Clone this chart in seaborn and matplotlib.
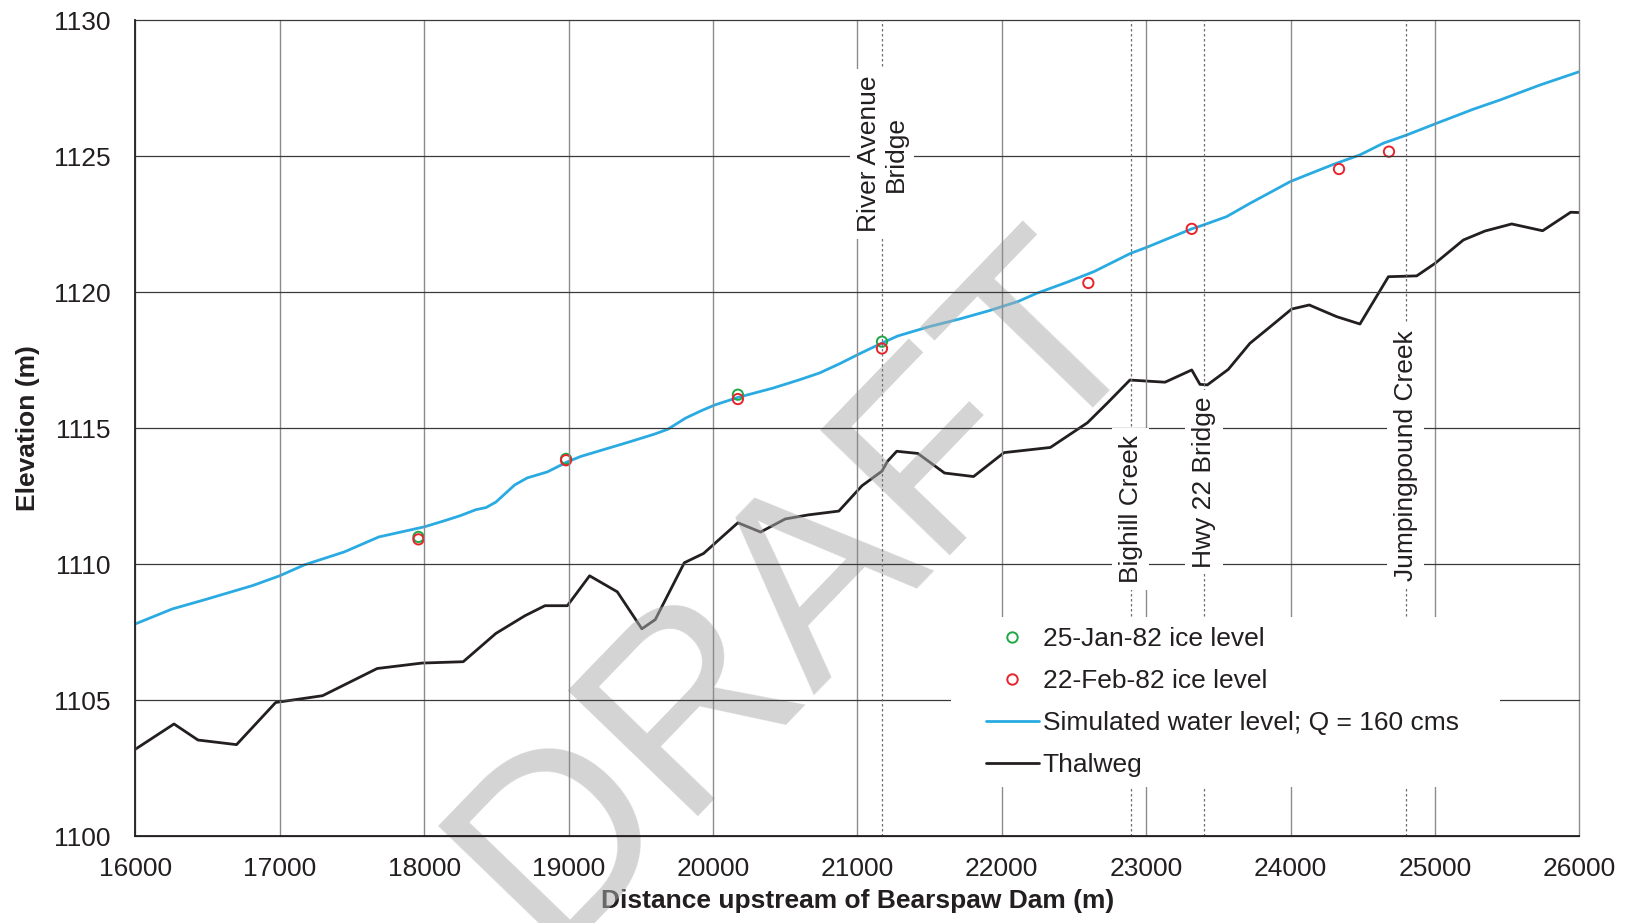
import numpy as np
import pandas as pd
import matplotlib
matplotlib.use("Agg")
import matplotlib.pyplot as plt
import seaborn as sns
from matplotlib.lines import Line2D
from matplotlib.patches import Rectangle
from matplotlib.ticker import MultipleLocator

# ---- data -----------------------------------------------------------------
water_x = [16000, 16256, 16494, 16812, 17000, 17170, 17448, 17687, 18001, 18126,
           18250, 18358, 18429, 18497, 18627, 18714, 18853, 18992, 19085, 19255,
           19425, 19595, 19688, 19811, 19919, 20012, 20173, 20414, 20600, 20739,
           20878, 21017, 21171, 21280, 21496, 21712, 21913, 22114, 22238, 22454,
           22640, 22893, 23004, 23316, 23396, 23558, 23720, 23881, 23999, 24112,
           24297, 24481, 24643, 24804, 25001, 25266, 25451, 25728, 26000]
water_y = [1107.80, 1108.35, 1108.71, 1109.21, 1109.57, 1109.97, 1110.45, 1111.00, 1111.37, 1111.57,
           1111.78, 1112.00, 1112.08, 1112.28, 1112.91, 1113.17, 1113.39, 1113.76, 1113.96, 1114.23,
           1114.50, 1114.78, 1114.96, 1115.37, 1115.64, 1115.85, 1116.13, 1116.47, 1116.78, 1117.03,
           1117.37, 1117.74, 1118.13, 1118.39, 1118.73, 1119.02, 1119.32, 1119.66, 1119.95, 1120.37,
           1120.76, 1121.43, 1121.65, 1122.33, 1122.47, 1122.78, 1123.27, 1123.73, 1124.07, 1124.31,
           1124.70, 1125.05, 1125.48, 1125.78, 1126.19, 1126.73, 1127.07, 1127.62, 1128.11]

thalweg_x = [16000, 16268, 16434, 16701, 16972, 17297, 17675, 17985, 18271, 18497,
             18698, 18837, 18992, 19146, 19338, 19508, 19601, 19802, 19935, 20173,
             20330, 20501, 20661, 20872, 21032, 21171, 21209, 21273, 21419, 21604,
             21805, 22016, 22337, 22594, 22733, 22888, 23131, 23316, 23373, 23424,
             23569, 23719, 23846, 24008, 24130, 24320, 24481, 24678, 24874, 25001,
             25197, 25347, 25532, 25746, 25940, 26000]
thalweg_y = [1103.19, 1104.12, 1103.53, 1103.36, 1104.91, 1105.16, 1106.16, 1106.36, 1106.41, 1107.45,
             1108.10, 1108.47, 1108.47, 1109.57, 1108.98, 1107.62, 1107.96, 1110.05, 1110.39, 1111.52,
             1111.18, 1111.66, 1111.81, 1111.95, 1112.88, 1113.42, 1113.78, 1114.15, 1114.07, 1113.35,
             1113.22, 1114.10, 1114.29, 1115.20, 1115.93, 1116.77, 1116.69, 1117.14, 1116.61, 1116.59,
             1117.16, 1118.12, 1118.67, 1119.38, 1119.53, 1119.10, 1118.83, 1120.57, 1120.60, 1121.06,
             1121.92, 1122.25, 1122.51, 1122.26, 1122.94, 1122.93]

jan_x = [17961, 18983, 20173, 21171]
jan_y = [1111.00, 1113.87, 1116.23, 1118.18]

feb_x = [17961, 18983, 20173, 21171, 22600, 23316, 24336, 24682]
feb_y = [1110.91, 1113.82, 1116.07, 1117.93, 1120.34, 1122.33, 1124.53, 1125.17]

landmark_names = ["River Avenue\nBridge", "Bighill Creek", "Hwy 22 Bridge", "Jumpingpound Creek"]
landmark_x = [21171, 22893, 23401, 24798]
landmark_label_y = [1125.08, 1112.03, 1113.02, 1114.00]

x_ticks = list(range(16000, 26001, 1000))
y_ticks = list(range(1100, 1131, 5))

legend_labels = ["25-Jan-82 ice level", "22-Feb-82 ice level",
                 "Simulated water level; Q = 160 cms", "Thalweg"]

# ---- style ----------------------------------------------------------------
BLUE = "#29abe2"
BLACK = "#231f20"
GREEN = "#1fa846"
RED = "#e8232b"
TXT = "#231f20"

sns.set_theme(style="white")
plt.rcParams["font.family"] = ["Liberation Sans", "DejaVu Sans"]

W, H = 1631, 923
fig = plt.figure(figsize=(W / 100, H / 100), dpi=100)
ax = fig.add_axes([135.3 / W, 1 - 836 / H, 1444 / W, 815.7 / H])
ax.set_axisbelow(True)

water = pd.DataFrame({"distance": water_x, "elevation": water_y})
thalweg = pd.DataFrame({"distance": thalweg_x, "elevation": thalweg_y})
jan = pd.DataFrame({"distance": jan_x, "elevation": jan_y})
feb = pd.DataFrame({"distance": feb_x, "elevation": feb_y})

# data series
sns.lineplot(data=water, x="distance", y="elevation", color=BLUE, lw=2.0,
             sort=False, estimator=None, ax=ax, zorder=3)
sns.lineplot(data=thalweg, x="distance", y="elevation", color=BLACK, lw=2.0,
             sort=False, estimator=None, ax=ax, zorder=3)

for df, col in ((jan, GREEN), (feb, RED)):
    sns.scatterplot(data=df, x="distance", y="elevation", color=col, s=55,
                    linewidth=1.4, ax=ax, zorder=3.2)
    coll = ax.collections[-1]
    coll.set_facecolor("none")
    coll.set_edgecolor(col)

# translucent draft stamp above the series, below the grid
ax.text(0.4905, 0.360, "DRAFT", transform=fig.transFigure, clip_on=False,
        rotation=46, rotation_mode="anchor", ha="center", va="center",
        fontsize=188, color=(0.68, 0.68, 0.68), alpha=0.52, zorder=3.4)

# grid: light vertical, darker horizontal (drawn over the stamp)
for xv in x_ticks:
    ax.axvline(xv, color="#8c8c8c", lw=1.0, zorder=3.6, clip_on=False)
for yv in y_ticks:
    ax.axhline(yv, color="#3a3a3a", lw=0.9, zorder=3.6, clip_on=False)

# landmark reference lines with boxed labels
for name, lx, ly in zip(landmark_names, landmark_x, landmark_label_y):
    ax.axvline(lx, color="#6e6e6e", lw=0.9, ls=(0, (2, 2)), zorder=3.6)
    ax.text(lx, ly, name, rotation=90, ha="center", va="center",
            multialignment="center", fontsize=19, color=TXT, zorder=3.8,
            linespacing=1.15,
            bbox=dict(boxstyle="square,pad=0.25", fc="white", ec="none"))

# legend on a white panel
ax.add_patch(Rectangle((0.565, 0.060), 0.380, 0.2085, transform=ax.transAxes,
                       fc="white", ec="none", zorder=3.8))
handles = [
    Line2D([], [], marker="o", ls="none", mfc="none", mec=GREEN, ms=7.5, mew=1.4),
    Line2D([], [], marker="o", ls="none", mfc="none", mec=RED, ms=7.5, mew=1.4),
    Line2D([], [], color=BLUE, lw=2.0),
    Line2D([], [], color=BLACK, lw=2.0),
]
leg = ax.legend(handles, legend_labels, loc="upper left", bbox_to_anchor=(0.5891, 0.256),
                frameon=False, borderpad=0, borderaxespad=0, handlelength=2.0,
                handletextpad=0.15, labelspacing=0.68, fontsize=19)
for t in leg.get_texts():
    t.set_color(TXT)
leg.set_zorder(5)

# axes, ticks, labels
ax.set_xlim(16000, 26000)
ax.set_ylim(1100, 1130)
ax.set_xticks(x_ticks)
ax.set_yticks(y_ticks)
ax.xaxis.set_minor_locator(MultipleLocator(200))
ax.yaxis.set_minor_locator(MultipleLocator(1))
ax.tick_params(which="major", direction="in", length=4, width=0.8, color=TXT,
               labelsize=19, labelcolor=TXT)
ax.tick_params(axis="x", which="major", pad=15)
ax.tick_params(axis="y", which="major", pad=18)
ax.tick_params(which="minor", direction="in", length=4, width=0.8, color=TXT)

for side in ("top", "right"):
    ax.spines[side].set_visible(False)
for side in ("left", "bottom"):
    ax.spines[side].set_color(TXT)
    ax.spines[side].set_linewidth(1.3)
    ax.spines[side].set_zorder(3.7)

ax.set_xlabel("Distance upstream of Bearspaw Dam (m)", fontsize=19,
              fontweight="bold", color=TXT, labelpad=6)
ax.set_ylabel("Elevation (m)", fontsize=19, fontweight="bold", color=TXT, labelpad=10)

fig.savefig("out.png", dpi=100)
